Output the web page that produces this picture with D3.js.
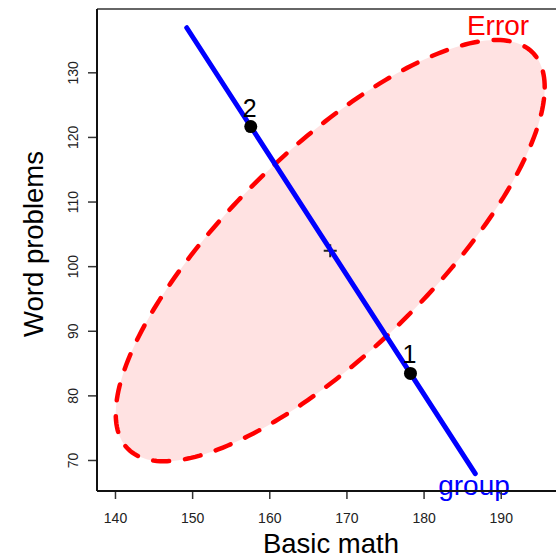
<!DOCTYPE html>
<html>
<head>
<meta charset="utf-8">
<script src="https://cdn.jsdelivr.net/npm/d3@7"></script>
<style>
  html, body { margin: 0; padding: 0; background: #fff; }
  svg { display: block; font-family: "Liberation Sans", Arial, sans-serif; }
</style>
</head>
<body>
<svg id="chart" width="556" height="559"></svg>
<script>
// Tick values on each axis
const xTicks = [140, 150, 160, 170, 180, 190];
const yTicks = [70, 80, 90, 100, 110, 120, 130];

// Group means (Basic math, Word problems)
const groupLabels = ["1", "2"];
const groupX = [178.3, 157.6];
const groupY = [83.4, 121.6];

// Grand mean
const grandMean = [167.9, 102.4];

// Error ellipse: centre, standard deviations along each axis, correlation
const errorCenter = [167.9, 102.4];
const errorSD = [27.8, 32.6];
const errorCorr = 0.775;

// Hypothesis (group) ellipse is degenerate: a line segment through the means
const groupLineX = [149.3, 186.7];
const groupLineY = [136.9, 67.9];

const W = 556, H = 559;
const plot = { left: 97, right: 565, top: 9, bottom: 491 };

const svg = d3.select("#chart");

const x = d3.scaleLinear().domain([137.67, 198.33]).range([plot.left, plot.right]);
const y = d3.scaleLinear().domain([65.2, 139.8]).range([plot.bottom, plot.top]);

// Error ellipse outline points from the centre, SDs and correlation
const nPts = 240;
const ellPts = d3.range(nPts).map(i => {
  const t = (i / nPts) * 2 * Math.PI;
  const ex = errorCenter[0] + errorSD[0] * Math.cos(t);
  const ey = errorCenter[1] + errorSD[1] * (errorCorr * Math.cos(t) + Math.sqrt(1 - errorCorr * errorCorr) * Math.sin(t));
  return [ex, ey];
});

const ellLine = d3.line().x(d => x(d[0])).y(d => y(d[1])).curve(d3.curveLinearClosed);

svg.append("path")
  .attr("d", ellLine(ellPts))
  .attr("fill", "#ffe2e2")
  .attr("stroke", "none");

svg.append("path")
  .attr("d", ellLine(ellPts))
  .attr("fill", "none")
  .attr("stroke", "#ff0000")
  .attr("stroke-width", 4.5)
  .attr("stroke-dasharray", "16,16")
  .attr("stroke-linecap", "round");

// Grand-mean marker
const gx = x(grandMean[0]), gy = y(grandMean[1]);
svg.append("path")
  .attr("d", `M${gx - 6.5},${gy}H${gx + 6.5}M${gx},${gy - 6.5}V${gy + 6.5}`)
  .attr("stroke", "#222")
  .attr("stroke-width", 2);

// Group line
svg.append("line")
  .attr("x1", x(groupLineX[0])).attr("y1", y(groupLineY[0]))
  .attr("x2", x(groupLineX[1])).attr("y2", y(groupLineY[1]))
  .attr("stroke", "#0000ff")
  .attr("stroke-width", 5)
  .attr("stroke-linecap", "round");

// Group means
groupX.forEach((gxv, i) => {
  svg.append("circle")
    .attr("cx", x(gxv)).attr("cy", y(groupY[i]))
    .attr("r", 6.5)
    .attr("fill", "#000");
  svg.append("text")
    .attr("x", x(gxv) - 1).attr("y", y(groupY[i]) - 10)
    .attr("text-anchor", "middle")
    .attr("font-size", 25)
    .attr("fill", "#000")
    .text(groupLabels[i]);
});

// Ellipse labels
svg.append("text")
  .attr("x", 498).attr("y", 35)
  .attr("text-anchor", "middle")
  .attr("font-size", 28)
  .attr("fill", "#ff0000")
  .text("Error");

svg.append("text")
  .attr("x", 474).attr("y", 495)
  .attr("text-anchor", "middle")
  .attr("font-size", 28)
  .attr("fill", "#0000ff")
  .text("group");

// Frame
svg.append("line")
  .attr("x1", plot.left).attr("x2", W).attr("y1", plot.top).attr("y2", plot.top)
  .attr("stroke", "#666").attr("stroke-width", 2);

// Axes
const xAxis = d3.axisBottom(x).tickValues(xTicks).tickSize(8).tickPadding(14).tickSizeOuter(0);
const gX = svg.append("g").attr("transform", `translate(0,${plot.bottom})`).call(xAxis);
gX.select(".domain").remove();
gX.append("line").attr("x1", plot.left).attr("x2", W).attr("stroke", "#111").attr("stroke-width", 2);
gX.selectAll(".tick line").attr("stroke", "#333").attr("stroke-width", 1.5);
gX.selectAll(".tick text").attr("font-size", 14).attr("fill", "#222")
  .attr("font-family", "'Liberation Sans', Arial, sans-serif");

const yAxis = d3.axisLeft(y).tickValues(yTicks).tickSize(9).tickPadding(0).tickSizeOuter(0);
const gY = svg.append("g").attr("transform", `translate(${plot.left},0)`).call(yAxis);
gY.select(".domain").remove();
gY.append("line").attr("y1", plot.top).attr("y2", plot.bottom).attr("stroke", "#111").attr("stroke-width", 2);
gY.selectAll(".tick line").attr("stroke", "#333").attr("stroke-width", 1.5);
gY.selectAll(".tick text")
  .attr("font-size", 14).attr("fill", "#222")
  .attr("font-family", "'Liberation Sans', Arial, sans-serif")
  .attr("text-anchor", "middle")
  .attr("dy", null)
  .attr("x", null)
  .attr("transform", "translate(-19,0) rotate(-90)");

// Axis titles
svg.append("text")
  .attr("x", 331).attr("y", 553)
  .attr("text-anchor", "middle")
  .attr("font-size", 27.5)
  .attr("fill", "#000")
  .text("Basic math");

svg.append("text")
  .attr("transform", "translate(43,244) rotate(-90)")
  .attr("text-anchor", "middle")
  .attr("font-size", 27.5)
  .attr("fill", "#000")
  .text("Word problems");
</script>
</body>
</html>
